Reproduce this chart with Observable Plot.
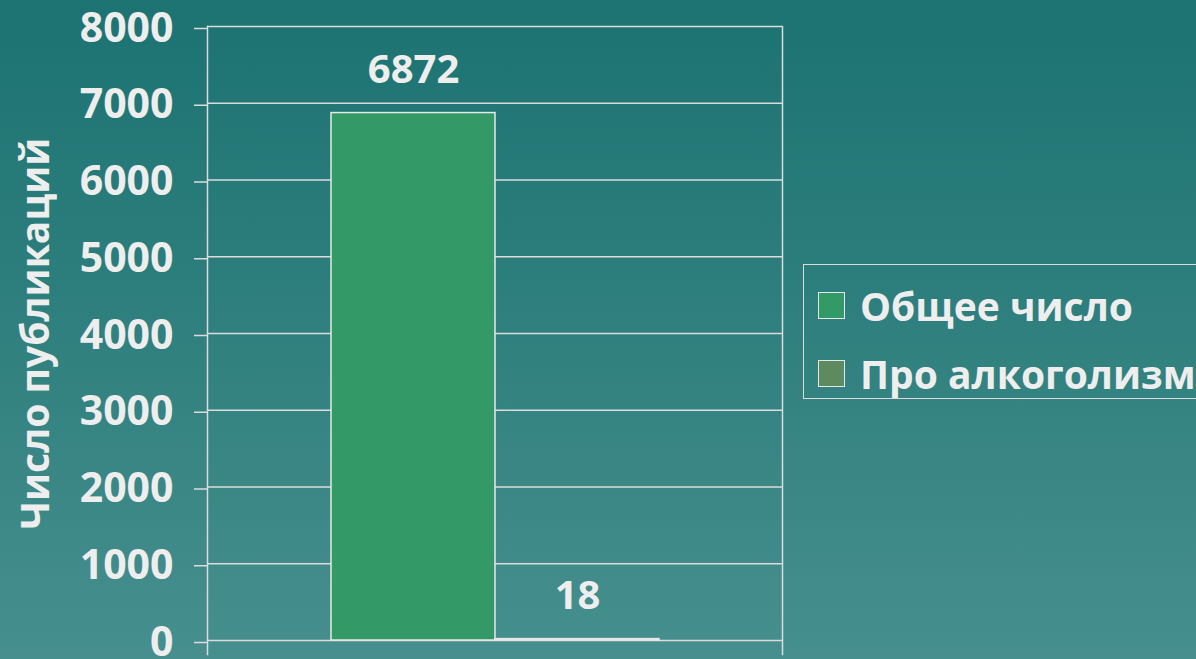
<!DOCTYPE html>
<html>
<head>
<meta charset="utf-8">
<script src="https://cdn.jsdelivr.net/npm/d3@7"></script>
<script src="https://cdn.jsdelivr.net/npm/@observablehq/plot@0.6"></script>
<style>
  html, body { margin: 0; padding: 0; width: 1196px; height: 659px; overflow: hidden; }
  body { background: linear-gradient(to bottom, #1c7372 0%, #2f807e 50%, #478f8f 100%); font-family: "Open Sans", sans-serif; position: relative; }
  #chart { position: absolute; left: 0; top: 0; }
  #legend { position: absolute; left: 803px; top: 264px; width: 420px; height: 135px; border: 1.5px solid #dcdcdc; box-sizing: border-box; }
  .item { position: absolute; left: 14px; display: flex; align-items: center; white-space: nowrap; }
  .sw { width: 27px; height: 27px; border: 1.5px solid #e6e6e6; box-sizing: border-box; margin-right: 15px; }
  .lab { color: #eeeeee; font-size: 39px; font-weight: bold; line-height: 1; }
</style>
</head>
<body>
<div id="chart"></div>
<div id="legend"></div>
<script>
const series = ["Общее число", "Про алкоголизм"];
const values = [6872, 18];
const colors = ["#339966", "#5e8a5f"];
const yTicks = [0, 1000, 2000, 3000, 4000, 5000, 6000, 7000, 8000];
const yLabel = "Число публикаций";

const data = series.map((s, i) => ({series: s, value: values[i]}));
const fg = "#eeeeee";
const lineC = "#dcdcdc";

const chart = Plot.plot({
  width: 1196,
  height: 659,
  marginLeft: 207,
  marginRight: 414,
  marginTop: 26,
  marginBottom: 19,
  style: {fontFamily: "Open Sans", fontWeight: "bold", background: "transparent", overflow: "visible"},
  x: {domain: series, paddingInner: 0, paddingOuter: 0.753, axis: null},
  y: {domain: [0, 8000], ticks: yTicks, label: null},
  color: {domain: series, range: colors},
  marks: [
    Plot.gridY(yTicks, {stroke: lineC, strokeOpacity: 1, strokeWidth: 1.5}),
    Plot.axisY(yTicks, {tickSize: 13, tickPadding: 21, tickFormat: d => String(d), stroke: lineC, strokeWidth: 1.5, fill: fg, fontSize: 41, fontWeight: "bold", dy: 2, label: null}),
    Plot.frame({anchor: "left", stroke: lineC, strokeWidth: 1.5, insetBottom: -14}),
    Plot.frame({anchor: "right", stroke: lineC, strokeWidth: 1.5, insetBottom: -14}),
    Plot.barY(data, {x: "series", y: "value", fill: "series", stroke: "#e8e8e8", strokeWidth: 1.5}),
    Plot.text(data, {x: "series", y: "value", text: d => String(d.value), lineAnchor: "bottom", dy: -30, fill: fg, fontSize: 40, fontWeight: "bold"}),
    Plot.text([yLabel], {frameAnchor: "left", text: d => d, rotate: -90, textAnchor: "middle", lineAnchor: "middle", dx: -171, fill: fg, fontSize: 39, fontWeight: "bold"})
  ]
});
document.getElementById("chart").appendChild(chart);

const legend = document.getElementById("legend");
const tops = [21, 89];
series.forEach((s, i) => {
  const item = document.createElement("div");
  item.className = "item";
  item.style.top = tops[i] + "px";
  const sw = document.createElement("div");
  sw.className = "sw";
  sw.style.background = colors[i];
  const lab = document.createElement("div");
  lab.className = "lab";
  lab.textContent = s;
  item.appendChild(sw);
  item.appendChild(lab);
  legend.appendChild(item);
});
</script>
</body>
</html>
